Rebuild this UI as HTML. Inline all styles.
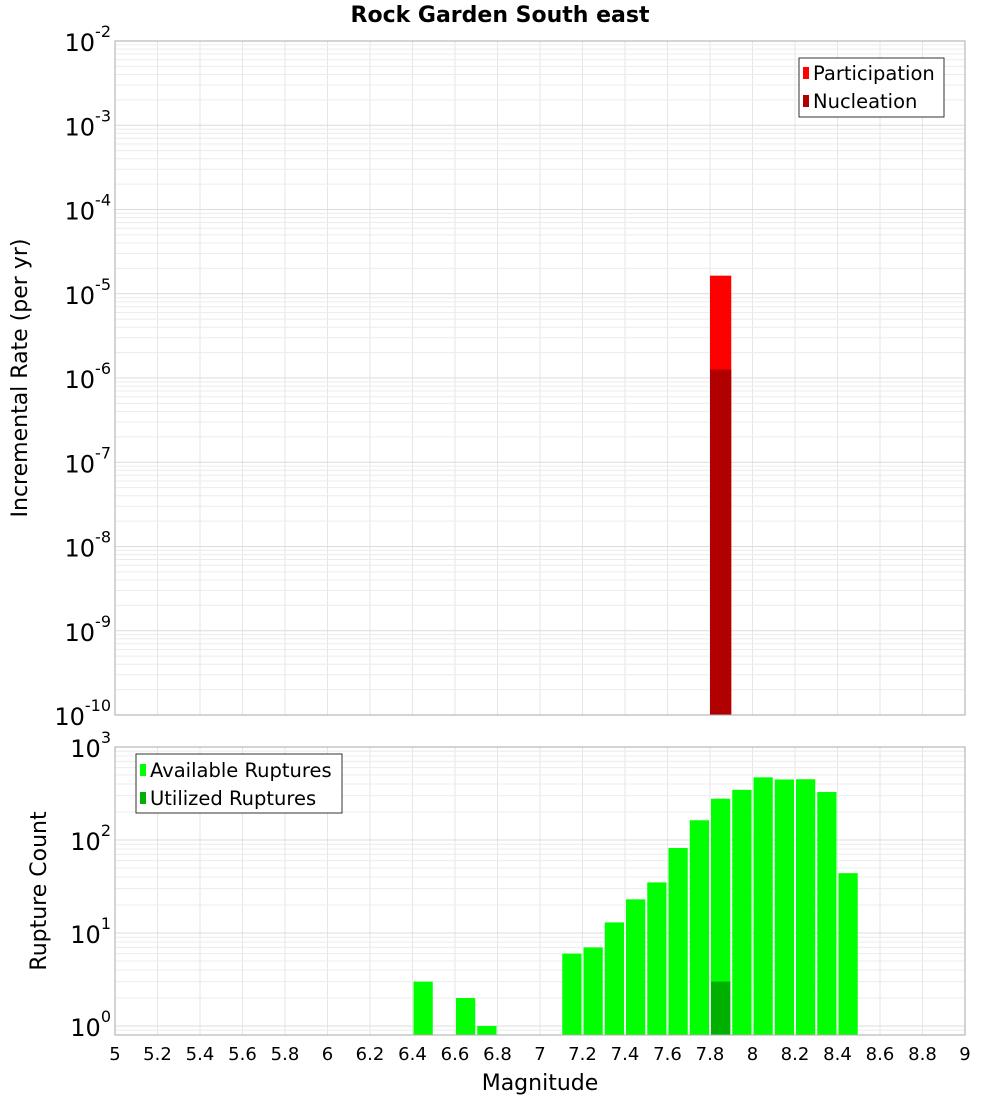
<!DOCTYPE html>
<html><head><meta charset="utf-8"><style>
html,body{margin:0;padding:0;background:#fff}
svg{display:block;font-family:"DejaVu Sans","Liberation Sans",sans-serif}
</style></head><body>
<svg id="c" width="1000" height="1100" xmlns="http://www.w3.org/2000/svg">
<text x="500" y="22" text-anchor="middle" font-size="22" font-weight="bold">Rock Garden South east</text>
<g id="topPlot"></g>
<g id="botPlot"></g>
<text transform="translate(27,378) rotate(-90)" text-anchor="middle" font-size="22">Incremental Rate (per yr)</text>
<text transform="translate(46,891) rotate(-90)" text-anchor="middle" font-size="22">Rupture Count</text>
<text x="540" y="1090" text-anchor="middle" font-size="22">Magnitude</text>
<g id="legends">
<g>
<rect x="799" y="58" width="145" height="59" fill="#fff" stroke="#333"/>
<rect x="803" y="67" width="6" height="12" fill="#ff0000"/>
<text x="813" y="80" font-size="19.5">Participation</text>
<rect x="803" y="95" width="6" height="12" fill="#b00000"/>
<text x="813" y="108" font-size="19.5">Nucleation</text>
</g>
<g>
<rect x="136" y="754" width="206" height="59" fill="#fff" stroke="#333"/>
<rect x="140" y="764" width="6" height="12" fill="#00ff00"/>
<text x="150" y="777" font-size="19.5">Available Ruptures</text>
<rect x="140" y="792" width="6" height="12" fill="#00b000"/>
<text x="150" y="805" font-size="19.5">Utilized Ruptures</text>
</g>
</g>
</svg>
<script>
const xTicks=[5,5.2,5.4,5.6,5.8,6,6.2,6.4,6.6,6.8,7,7.2,7.4,7.6,7.8,8,8.2,8.4,8.6,8.8,9];
const rateMags=[7.85];
const participation=[1.64e-5];
const nucleation=[1.26e-6];
const countMags=[6.45,6.65,6.75,7.15,7.25,7.35,7.45,7.55,7.65,7.75,7.85,7.95,8.05,8.15,8.25,8.35,8.45];
const available=[3,2,1,6,7,13,23,35,82,163,278,346,472,447,450,328,44];
const utilMags=[7.85];
const utilized=[3];
const topExp=[-10,-9,-8,-7,-6,-5,-4,-3,-2];
const botExp=[0,1,2,3];

const NS="http://www.w3.org/2000/svg";
const X0=115,X1=965;
const xs=m=>X0+(m-5)/4*(X1-X0);
const PT={y0:41,y1:715,lo:-10,hi:-2};
const PB={y0:747,y1:1035,lo:Math.log10(0.8),hi:3};
const ys=(P,v)=>P.y1-(Math.log10(v)-P.lo)/(P.hi-P.lo)*(P.y1-P.y0);
function el(p,t,a){const e=document.createElementNS(NS,t);for(const k in a)e.setAttribute(k,a[k]);p.appendChild(e);return e;}

function frame(g,P,exps,prefix){
  el(g,'rect',{x:X0,y:P.y0,width:X1-X0,height:P.y1-P.y0,fill:'#fff'});
  for(const t of xTicks){const l=el(g,'line',{x1:xs(t),x2:xs(t),y1:P.y0,y2:P.y1,stroke:'#e6e6e6'});
    
    }
  for(let e=Math.floor(P.lo);e<P.hi;e++)for(let k=1;k<10;k++){const v=k*Math.pow(10,e);const lv=Math.log10(v);if(lv<P.lo||lv>P.hi)continue;
    const l=el(g,'line',{x1:X0,x2:X1,y1:ys(P,v),y2:ys(P,v),stroke:k==1?'#dcdcdc':'#ececec'});
    
    }
  for(const e of exps){const yy=ys(P,Math.pow(10,e));
    const t=el(g,'text',{x:X0-4,y:yy+10,'text-anchor':'end','font-size':24});
    
    
    t.textContent='10';
    const s=el(t,'tspan',{dy:-14,'font-size':16});s.textContent=String(e);}
}
const topG=document.getElementById('topPlot'),botG=document.getElementById('botPlot');
frame(topG,PT,topExp,'top');frame(botG,PB,botExp,'bottom');
function bars(g,P,mags,vals,fill,name,pad){
  mags.forEach((m,i)=>{const yt=ys(P,vals[i]);
    const r=el(g,'rect',{x:xs(m-0.05)+pad,y:yt,width:xs(m+0.05)-xs(m-0.05)-2*pad,height:P.y1-yt,fill:fill});
    
    });
}
bars(topG,PT,rateMags,participation,'#ff0000','participation-bar',0);
bars(topG,PT,rateMags,nucleation,'#b00000','nucleation-bar',0);
bars(botG,PB,countMags,available,'#00ff00','available-bar',1);
bars(botG,PB,utilMags,utilized,'#00b000','utilized-bar',1);
el(topG,'rect',{x:X0,y:PT.y0,width:X1-X0,height:PT.y1-PT.y0,fill:'none',stroke:'#aaa'});
el(botG,'rect',{x:X0,y:PB.y0,width:X1-X0,height:PB.y1-PB.y0,fill:'none',stroke:'#aaa'});
for(const t of xTicks){const tx=el(botG,'text',{x:xs(t),y:1060,'text-anchor':'middle','font-size':18});
  
  
  tx.textContent=String(t);}
</script>
</body></html>
